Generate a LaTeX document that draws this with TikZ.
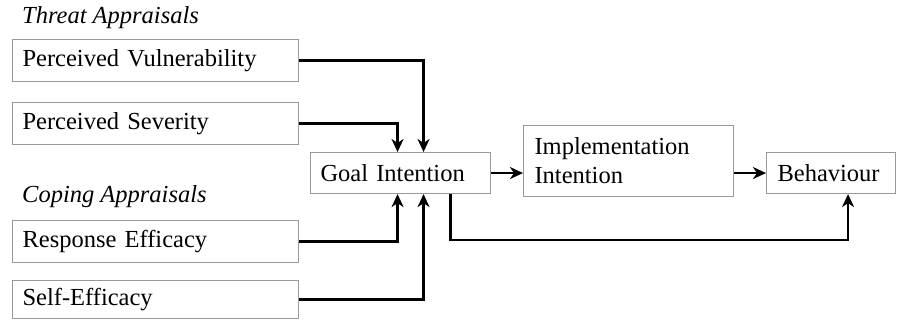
\documentclass[tikz,border=0pt]{standalone}
\usepackage{fontspec}
\setmainfont{Liberation Serif}
\usetikzlibrary{arrows.meta,positioning}

\tikzset{
  box/.style={draw=gray!80, line width=1.1pt, anchor=north west, align=left,
    inner xsep=10pt, inner ysep=0pt, font=\fontsize{24.5}{29}\selectfont},
  grouplabel/.style={anchor=west, inner sep=0pt, font=\fontsize{24.5}{29}\selectfont\itshape},
  arr/.style={line width=2.6pt, -{Stealth[length=13pt,width=12pt,inset=4pt]}}
}

\begin{document}
\begin{tikzpicture}[x=1pt, y=-1pt]
  \useasboundingbox (0,0) rectangle (897,320);
  % appraisal boxes
  \node[grouplabel] (threat) at (22,18) {Threat Appraisals};
  \node[box, text width=266pt, minimum height=42pt] (pv) at (12,39) {Perceived Vulnerability};
  \node[box, text width=266pt, minimum height=42pt] (ps) at (12,102) {Perceived Severity};
  \node[grouplabel] (coping) at (22,197) {Coping Appraisals};
  \node[box, text width=266pt, minimum height=42pt] (re) at (12,220) {Response Efficacy};
  \node[box, text width=266pt, minimum height=38pt] (se) at (12,280) {Self-Efficacy};
  % intentions and behaviour
  \node[box, text width=160pt, minimum height=41pt] (gi) at (310,152) {Goal Intention};
  \node[box, text width=188pt, minimum height=71pt, inner xsep=11pt] (ii) at (523,125) {Implementation\\Intention};
  \node[box, text width=107pt, minimum height=41pt, inner xsep=11pt] (bh) at (766,152) {Behaviour};
  \coordinate (low) at (0,240);

  \draw[arr] (pv.east) -| ([xshift=23pt]gi.north);
  \draw[arr] (ps.east) -| ([xshift=-3pt]gi.north);
  \draw[arr] (re.east) -| ([xshift=-3pt]gi.south);
  \draw[arr] (se.east) -| ([xshift=23pt]gi.south);
  \draw[arr] (gi.east) -- (ii.west |- gi.east);
  \draw[arr] (ii.east |- bh.west) -- (bh.west);
  \draw[arr] ([xshift=50pt]gi.south) |- ([xshift=17pt]bh.south |- low) -- ([xshift=17pt]bh.south);
\end{tikzpicture}
\end{document}
